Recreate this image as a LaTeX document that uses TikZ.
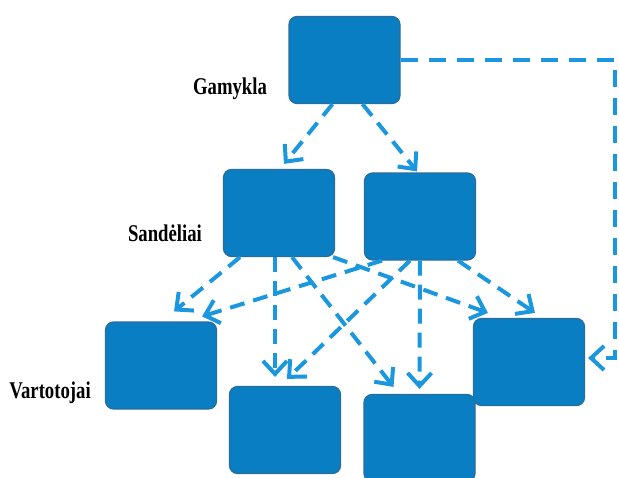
\documentclass[tikz,border=0pt]{standalone}
\usepackage{fontspec}
\setmainfont{Liberation Serif}
\usetikzlibrary{arrows.meta}
\definecolor{boxblue}{HTML}{0A7EC2}
\definecolor{boxedge}{HTML}{2A6C9C}
\definecolor{flowblue}{HTML}{1A97DF}
\newcommand{\lab}[1]{\scalebox{0.78}[1]{#1}}

\begin{document}
\begin{tikzpicture}[x=1pt,y=-1pt,
	box/.style={shape=rectangle,rounded corners=8pt,fill=boxblue,draw=boxedge,line width=1.2pt,minimum width=111pt,minimum height=87pt,inner sep=0pt},
	lbl/.style={anchor=base,inner sep=0pt,font=\bfseries\fontsize{24}{24}\selectfont},
	flow/.style={draw=flowblue,line width=4pt,dash pattern=on 15pt off 9pt,-{Straight Barb[length=13pt,width=24pt]}}]
	\useasboundingbox (0,0) rectangle (619,477);
	\node[box] (g) at (344.5,60) {};
	\node[box] (s1) at (279,213) {};
	\node[box] (s2) at (420,216.5) {};
	\node[box] (v1) at (161,365.5) {};
	\node[box] (v2) at (285,430) {};
	\node[box] (v3) at (419.5,438) {};
	\node[box] (v4) at (529,362) {};
	\node[lbl] (lg) at (230,94) {\lab{Gamykla}};
	\node[lbl] (ls) at (165,241) {\lab{Sandėliai}};
	\node[lbl] (lv) at (50,398) {\lab{Vartotojai}};
	\coordinate (turn) at (615,60);
	\draw[flow] ([xshift=-12pt]g.south) -- ([xshift=5pt,yshift=5pt]s1.north);
	\draw[flow] ([xshift=18pt]g.south) -- ([xshift=-3pt,yshift=1pt]s2.north);
	\draw[flow] ([xshift=-39pt]s1.south) -- ([xshift=13pt,yshift=10pt]v1.north);
	\draw[flow] ([xshift=-4pt]s1.south) -- ([xshift=-10pt,yshift=9pt]v2.north);
	\draw[flow] ([xshift=13pt]s1.south) -- ([xshift=-26pt,yshift=7pt]v3.north);
	\draw[flow] ([xshift=-2pt]s1.south east) -- ([xshift=15pt,yshift=5pt]v4.north west);
	\draw[flow] ([xshift=-38pt]s2.south) -- ([xshift=-15pt,yshift=5pt]v1.north east);
	\draw[flow] ([xshift=-10pt]s2.south) -- ([xshift=2pt,yshift=7pt]v2.north);
	\draw[flow] (s2.south) -- ([yshift=5pt]v3.north);
	\draw[flow] ([xshift=38pt]s2.south) -- ([xshift=6pt,yshift=5pt]v4.north);
	\draw[flow,dash pattern=on 17pt off 11pt] (g.east) -- (turn) |- ([xshift=3pt,yshift=4pt]v4.east);
\end{tikzpicture}
\end{document}
